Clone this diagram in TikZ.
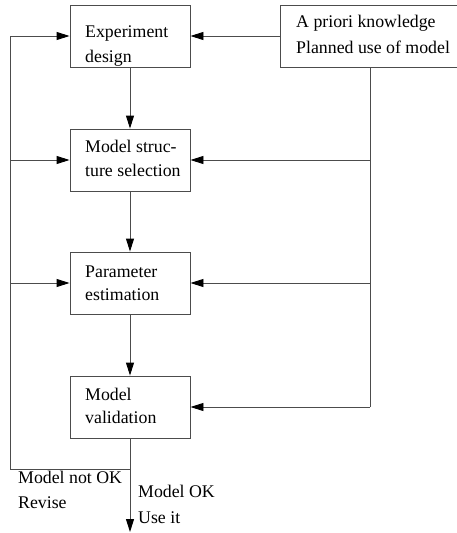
\documentclass[tikz,border=0pt]{standalone}
\usepackage{fontspec}
\setmainfont{Liberation Serif}
\usetikzlibrary{arrows.meta}
\begin{document}
\begin{tikzpicture}[x=1pt,y=-1pt,
  box/.style={draw=black!70, line width=0.9pt, minimum width=120pt, minimum height=62pt, inner sep=0pt},
  lbl/.style={anchor=base west, inner sep=0pt, font=\fontsize{17.8}{24}\selectfont},
  link/.style={draw=black!70, line width=0.9pt},
  tip/.style={link, -{Triangle[length=13pt,width=8pt,color=black]}}]
\useasboundingbox (0,0) rectangle (457,533);

% blocks of the identification loop
\node[box] (exp) at (130,36) {};
\node[box] (mss) at (130,160) {};
\node[box] (pes) at (130,283) {};
\node[box] (val) at (130,407) {};
\node[box, minimum width=178pt] (pri) at (369,36) {};

% block texts
\node[lbl] (exp1) at (85,37) {Experiment};
\node[lbl] (exp2) at (85,62) {design};
\node[lbl] (mss1) at (85,152) {Model struc-};
\node[lbl] (mss2) at (85,176) {ture selection};
\node[lbl] (pes1) at (85,277) {Parameter};
\node[lbl] (pes2) at (85,300) {estimation};
\node[lbl] (val1) at (85,400) {Model};
\node[lbl] (val2) at (85,423) {validation};
\node[lbl] (pri1) at (296,27) {A priori knowledge};
\node[lbl] (pri2) at (296,53) {Planned use of model};

% main chain
\draw[tip] (exp.south) -- (mss.north);
\draw[tip] (mss.south) -- (pes.north);
\draw[tip] (pes.south) -- (val.north);

% prior knowledge feeds every step
\coordinate (rtop) at (370,67);
\coordinate (rbot) at (370,407);
\draw[tip] (pri.west) -- (exp.east);
\draw[link] (rtop) -- (rbot);
\draw[tip] (rtop |- mss.east) -- (mss.east);
\draw[tip] (rtop |- pes.east) -- (pes.east);
\draw[tip] (rbot) -- (val.east);

% feedback when the model is rejected
\coordinate (split) at (130,469);
\coordinate (lbot) at (10,469);
\coordinate (ltop) at (10,36);
\draw[link] (val.south) -- (split) -- (lbot) -- (ltop);
\draw[tip] (ltop) -- (exp.west);
\draw[tip] (ltop |- mss.west) -- (mss.west);
\draw[tip] (ltop |- pes.west) -- (pes.west);

% accepted model leaves the loop
\coordinate (out) at (130,532);
\draw[tip] (split) -- (out);

\node[lbl] (nok1) at (18,483) {Model not OK};
\node[lbl] (nok2) at (18,508) {Revise};
\node[lbl] (ok1) at (138,497) {Model OK};
\node[lbl] (ok2) at (138,523) {Use it};
\end{tikzpicture}
\end{document}
